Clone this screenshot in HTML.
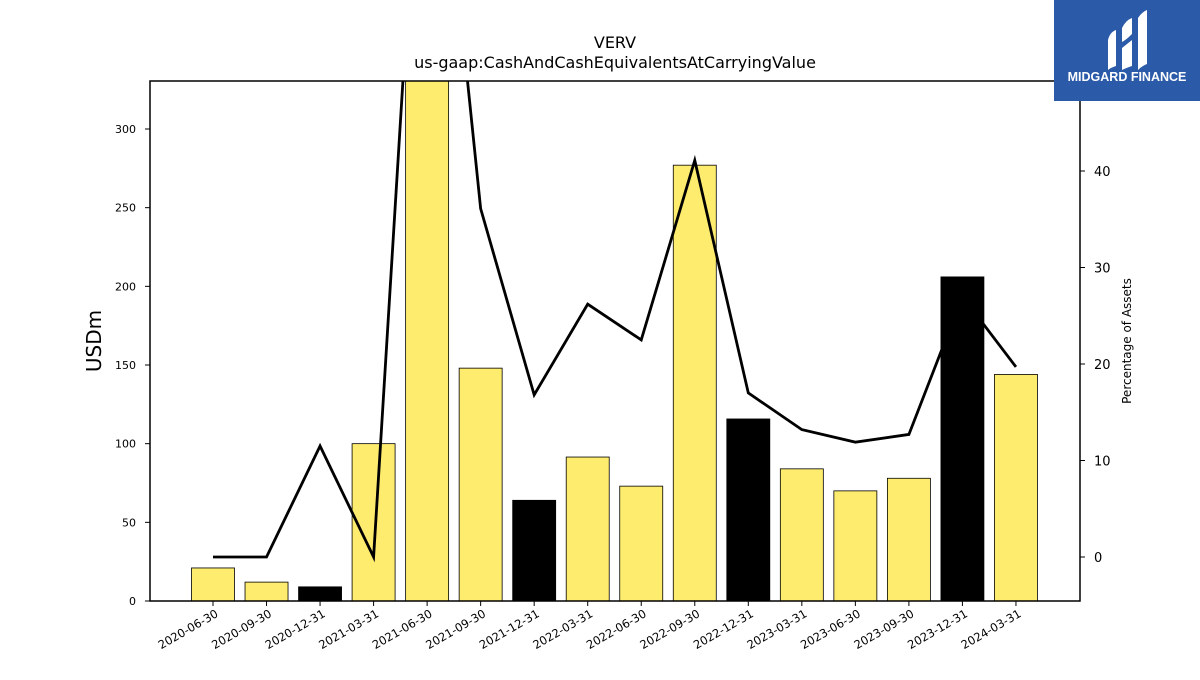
<!DOCTYPE html>
<html><head><meta charset="utf-8"><style>
body{margin:0;background:#fff;font-family:"Liberation Sans","DejaVu Sans",sans-serif;}
svg text{font-family:"DejaVu Sans","Liberation Sans",sans-serif;}
</style></head><body>
<svg id="chart" width="1200" height="675" xmlns="http://www.w3.org/2000/svg">
<defs><clipPath id="clip"><rect x="150" y="81" width="930" height="520"/></clipPath></defs>
<text x="615" y="48" font-size="16" text-anchor="middle">VERV</text>
<text x="615" y="68" font-size="16" text-anchor="middle">us-gaap:CashAndCashEquivalentsAtCarryingValue</text>
<g id="bars" clip-path="url(#clip)"></g>
<g id="line" clip-path="url(#clip)"></g>
<rect x="150" y="81" width="930" height="520" fill="none" stroke="#000" stroke-width="1.5"/>
<g id="axes"></g>
<text transform="translate(101,341) rotate(-90)" font-size="20" text-anchor="middle">USDm</text>
<text transform="translate(1131,341) rotate(-90)" font-size="12" text-anchor="middle">Percentage of Assets</text>
<g>
<rect x="1054" y="0" width="146" height="101" fill="#2b5aa8"/>
<path d="M1108 40 Q1110 32 1116 30 L1116 66 Q1110 68 1108 70 Z" fill="#fff"/>
<path d="M1122 28 Q1126 20 1132 18 L1132 34 Q1126 40 1122 42 Z M1122 48 L1132 40 L1132 66 Q1126 68 1122 70 Z" fill="#fff"/>
<path d="M1138 18 Q1142 12 1147 10 L1147 64 Q1142 66 1138 70 Z" fill="#fff"/>
<text x="1127" y="81" font-size="12.5" font-weight="bold" fill="#fff" text-anchor="middle" style="font-family:'Liberation Sans',sans-serif">MIDGARD FINANCE</text>
</g>
</svg>
<script>
const categories=["2020-06-30","2020-09-30","2020-12-31","2021-03-31","2021-06-30","2021-09-30","2021-12-31","2022-03-31","2022-06-30","2022-09-30","2022-12-31","2023-03-31","2023-06-30","2023-09-30","2023-12-31","2024-03-31"];
const cashValues=[21,12,9,100,345,148,64,91.5,73,277,115.7,84,70,78,206,144];
const isYearEnd=[false,false,true,false,false,false,true,false,false,false,true,false,false,false,true,false];
const pctValues=[0,0,11.5,0,90,36.1,16.8,26.2,22.5,41.1,17,13.2,11.9,12.7,27,19.7];
const leftTicks=[0,50,100,150,200,250,300];
const rightTicks=[0,10,20,30,40];
const NS="http://www.w3.org/2000/svg";
const xS=i=>213+i*53.53;
const yL=v=>601-v*(472/300);
const yR=v=>557-v*9.65;
function mk(t,a,p){const e=document.createElementNS(NS,t);for(const k in a)e.setAttribute(k,a[k]);p.appendChild(e);return e;}
const bars=document.getElementById('bars'),line=document.getElementById('line'),axes=document.getElementById('axes');
cashValues.forEach((v,i)=>{
 const r=mk('rect',{x:xS(i)-21.5,y:yL(v),width:43,height:601-yL(v),fill:isYearEnd[i]?'#000':'#feec6e',stroke:'#000','stroke-width':0.8},bars);
 
 
});
const pl=mk('polyline',{points:pctValues.map((v,i)=>xS(i)+','+yR(v)).join(' '),fill:'none',stroke:'#000','stroke-width':2.8},line);


leftTicks.forEach(t=>{
 mk('line',{x1:145,x2:150,y1:yL(t),y2:yL(t),stroke:'#000'},axes);
 const tx=mk('text',{x:136,y:yL(t)+4,'font-size':11,'text-anchor':'end'},axes);tx.textContent=t;
 
 
});
rightTicks.forEach(t=>{
 mk('line',{x1:1080,x2:1085,y1:yR(t),y2:yR(t),stroke:'#000'},axes);
 const tx=mk('text',{x:1094,y:yR(t)+5,'font-size':13},axes);tx.textContent=t;
 
 
});
categories.forEach((c,i)=>{
 mk('line',{x1:xS(i),x2:xS(i),y1:601,y2:606,stroke:'#000'},axes);
 const tx=mk('text',{transform:`translate(${xS(i)+6},${616}) rotate(-30)`,'font-size':11.5,'text-anchor':'end'},axes);tx.textContent=c;
 
 
});
</script>
</body></html>
